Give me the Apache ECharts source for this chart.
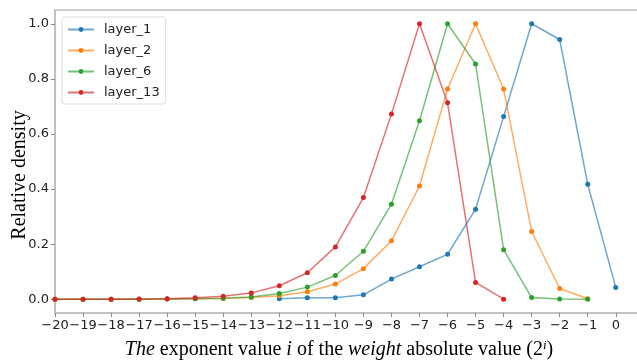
<!DOCTYPE html>
<html>
<head>
<meta charset="utf-8">
<script src="https://cdn.jsdelivr.net/npm/echarts@6/dist/echarts.min.js"></script>
<style>html,body{margin:0;padding:0;background:#fff;}#c{width:637px;height:362px;}</style>
</head>
<body>
<div id="c"></div>
<script>
// Data
const xTicks = [-20,-19,-18,-17,-16,-15,-14,-13,-12,-11,-10,-9,-8,-7,-6,-5,-4,-3,-2,-1,0];
const yTicks = [0, 0.2, 0.4, 0.6, 0.8, 1.0];
const seriesNames = ['layer_1', 'layer_2', 'layer_6', 'layer_13'];

const layer1X = [-12,-11,-10,-9,-8,-7,-6,-5,-4,-3,-2,-1,0];
const layer1Y = [0.002,0.005,0.005,0.016,0.073,0.118,0.163,0.327,0.663,1.0,0.943,0.417,0.043];

const layer2X = [-20,-19,-18,-17,-16,-15,-14,-13,-12,-11,-10,-9,-8,-7,-6,-5,-4,-3,-2,-1];
const layer2Y = [0,0,0,0,0.001,0.002,0.003,0.006,0.013,0.027,0.055,0.111,0.212,0.411,0.763,1.0,0.763,0.246,0.039,0.002];

const layer6X = [-20,-19,-18,-17,-16,-15,-14,-13,-12,-11,-10,-9,-8,-7,-6,-5,-4,-3,-2,-1];
const layer6Y = [0,0,0,0,0.001,0.002,0.004,0.008,0.021,0.044,0.086,0.174,0.345,0.648,1.0,0.854,0.18,0.006,0.001,0.0];

const layer13X = [-20,-19,-18,-17,-16,-15,-14,-13,-12,-11,-10,-9,-8,-7,-6,-5,-4];
const layer13Y = [0,0,0,0.001,0.002,0.005,0.011,0.023,0.049,0.096,0.19,0.369,0.672,1.0,0.713,0.061,0.0];

const colors = ['#1f77b4', '#ff7f0e', '#2ca02c', '#d62728'];
const xs = [layer1X, layer2X, layer6X, layer13X];
const ys = [layer1Y, layer2Y, layer6Y, layer13Y];

const chart = echarts.init(document.getElementById('c'), null, {renderer: 'canvas'});
const fmt = v => String(v).replace('-', '\u2212');
const spine = '#bdbdbd';

const option = {
  animation: false,
  backgroundColor: '#fff',
  grid: {left: 55, top: 10, right: -4, bottom: 49, outerBoundsMode: 'none', containLabel: false,
         show: true, borderColor: spine, borderWidth: 1.5, backgroundColor: 'transparent'},
  legend: {
    left: 62, top: 17, orient: 'vertical',
    data: seriesNames,
    itemWidth: 26, itemHeight: 6, itemGap: 8,
    padding: [6, 6, 5, 5],
    borderColor: '#dddddd', borderWidth: 1, borderRadius: 3,
    textStyle: {fontFamily: 'DejaVu Sans', fontSize: 13, color: '#222', padding: [0, 0, 0, 5]}
  },
  xAxis: {
    type: 'value', min: -20, max: 0.9,
    axisLine: {show: true, onZero: false, lineStyle: {color: spine, width: 1.5}},
    axisTick: {show: true, length: 4, lineStyle: {color: '#888'}, customValues: xTicks},
    axisLabel: {fontFamily: 'DejaVu Sans', fontSize: 13, color: '#222', margin: 6, formatter: fmt, customValues: xTicks},
    splitLine: {show: false}
  },
  yAxis: {
    type: 'value', min: -0.05, max: 1.05,
    axisLine: {show: true, onZero: false, lineStyle: {color: spine, width: 1.5}},
    axisTick: {show: true, length: 4, lineStyle: {color: '#888'}, customValues: yTicks},
    axisLabel: {fontFamily: 'DejaVu Sans', fontSize: 13, color: '#222', margin: 6, formatter: v => v.toFixed(1), customValues: yTicks},
    splitLine: {show: false}
  },
  graphic: [
    {
      type: 'text', x: 20, y: 175, rotation: Math.PI / 2,
      style: {text: 'Relative density', fontFamily: 'Liberation Serif', fontSize: 20, fill: '#000', textAlign: 'center', textVerticalAlign: 'middle'}
    },
    {
      type: 'text', x: 339, y: 350,
      style: {
        text: '{i|The} exponent value {i|i} of the {i|weight} absolute value (2{sup|i})',
        fontFamily: 'Liberation Serif', fontSize: 20, fill: '#000', textAlign: 'center', textVerticalAlign: 'middle',
        rich: {
          i: {fontFamily: 'Liberation Serif', fontStyle: 'italic', fontSize: 20, fill: '#000'},
          sup: {fontFamily: 'Liberation Serif', fontStyle: 'italic', fontSize: 13, fill: '#000', verticalAlign: 'top', padding: [0, 0, 9, 0]}
        }
      }
    }
  ],
  series: seriesNames.map((name, k) => ({
    name: name, type: 'line',
    data: xs[k].map((x, i) => [x, ys[k][i]]),
    color: colors[k],
    symbol: 'circle', symbolSize: 5,
    lineStyle: {width: 1.5, opacity: 0.65},
    itemStyle: {color: colors[k]},
    z: 2 + k
  }))
};
chart.setOption(option);
</script>
</body>
</html>
